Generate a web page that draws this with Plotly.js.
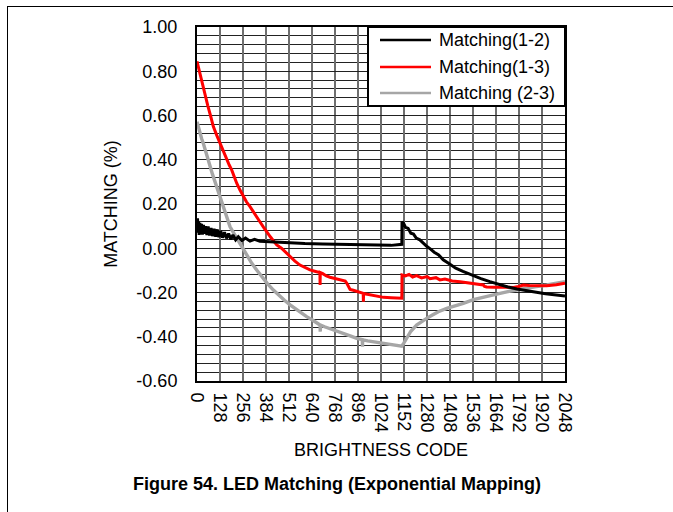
<!DOCTYPE html>
<html>
<head>
<meta charset="utf-8">
<script src="https://cdn.plot.ly/plotly-3.0.1.min.js"></script>
<style>
html,body{margin:0;padding:0;background:#fff;}
#chart{width:673px;height:512px;}
</style>
</head>
<body>
<div id="chart"></div>
<script>
// ---- data ----
const seriesNames = ['Matching(1-2)', 'Matching(1-3)', 'Matching (2-3)'];

const code12 = [0,3,6,9,12,16,20,25,30,36,42,48,55,62,70,78,86,95,104,113,122,132,142,153,164,176,188,200,215,230,250,270,295,320,350,390,450,520,600,700,800,900,1000,1080,1140,1141,1150,1160,1175,1190,1205,1220,1240,1260,1280,1300,1320,1345,1370,1400,1440,1480,1530,1580,1630,1680,1730,1780,1830,1880,1940,2000,2048];
const match12 = [0.09,0.135,0.07,0.12,0.06,0.115,0.07,0.11,0.062,0.105,0.065,0.1,0.06,0.098,0.058,0.092,0.055,0.088,0.052,0.085,0.05,0.078,0.048,0.072,0.045,0.066,0.04,0.06,0.038,0.052,0.035,0.046,0.032,0.04,0.032,0.03,0.027,0.024,0.021,0.019,0.017,0.015,0.014,0.013,0.018,0.12,0.112,0.095,0.09,0.068,0.064,0.046,0.038,0.022,0.008,-0.004,-0.018,-0.03,-0.052,-0.068,-0.09,-0.105,-0.122,-0.137,-0.151,-0.164,-0.175,-0.184,-0.192,-0.198,-0.206,-0.211,-0.216];

const code13 = [0,10,20,30,45,60,75,91,110,128,145,165,180,193,208,221,240,258,275,295,315,332,350,369,388,408,425,444,470,495,518,545,573,600,629,660,684,685,686,700,720,740,770,805,825,833,845,852,870,889,910,925,926,927,940,960,981,1010,1037,1080,1110,1130,1140,1141,1160,1180,1200,1222,1250,1280,1297,1330,1352,1380,1420,1464,1500,1540,1593,1600,1612,1650,1700,1760,1790,1816,1850,1900,1946,2000,2048];
const match13 = [0.845,0.81,0.775,0.745,0.69,0.645,0.6,0.55,0.51,0.474,0.44,0.405,0.375,0.354,0.32,0.294,0.262,0.233,0.21,0.188,0.165,0.143,0.12,0.097,0.072,0.052,0.034,0.015,0.0,-0.02,-0.038,-0.058,-0.076,-0.088,-0.098,-0.105,-0.11,-0.166,-0.11,-0.115,-0.125,-0.131,-0.138,-0.143,-0.148,-0.157,-0.175,-0.186,-0.19,-0.196,-0.2,-0.204,-0.242,-0.205,-0.207,-0.21,-0.214,-0.218,-0.222,-0.224,-0.225,-0.226,-0.226,-0.121,-0.125,-0.118,-0.13,-0.124,-0.134,-0.128,-0.138,-0.133,-0.143,-0.139,-0.148,-0.151,-0.155,-0.16,-0.166,-0.172,-0.175,-0.176,-0.177,-0.177,-0.173,-0.166,-0.168,-0.17,-0.169,-0.165,-0.158];

const code23 = [0,8,17,26,35,45,54,63,72,86,100,114,128,142,156,170,184,202,221,240,258,280,305,332,360,392,425,455,488,518,550,580,610,640,665,685,686,687,710,740,770,796,830,860,889,910,920,921,922,950,990,1037,1080,1120,1139,1150,1167,1190,1222,1250,1278,1310,1343,1390,1440,1482,1538,1600,1668,1730,1797,1830,1853,1880,1946,2000,2048];
const match23 = [0.572,0.545,0.52,0.495,0.474,0.445,0.421,0.395,0.369,0.335,0.301,0.267,0.233,0.2,0.165,0.13,0.097,0.072,0.045,0.02,-0.005,-0.035,-0.068,-0.098,-0.13,-0.16,-0.189,-0.213,-0.236,-0.256,-0.275,-0.293,-0.309,-0.323,-0.337,-0.347,-0.377,-0.347,-0.355,-0.363,-0.37,-0.377,-0.39,-0.398,-0.407,-0.411,-0.413,-0.445,-0.414,-0.419,-0.424,-0.43,-0.435,-0.44,-0.443,-0.43,-0.407,-0.375,-0.347,-0.33,-0.317,-0.302,-0.287,-0.272,-0.26,-0.249,-0.232,-0.219,-0.207,-0.196,-0.186,-0.18,-0.176,-0.174,-0.166,-0.16,-0.151];

const xTickVals = [0,128,256,384,512,640,768,896,1024,1152,1280,1408,1536,1664,1792,1920,2048];
const xTickLabels = ['0','128','256','384','512','640','768','896','1024','1152','1280','1408','1536','1664','1792','1920','2048'];
const yTickVals = [-0.6,-0.4,-0.2,0,0.2,0.4,0.6,0.8,1.0];
const yTickLabels = ['-0.60','-0.40','-0.20','0.00','0.20','0.40','0.60','0.80','1.00'];

const xTitle = 'BRIGHTNESS CODE';
const yTitle = 'MATCHING (%)';
const caption = 'Figure 54. LED Matching (Exponential Mapping)';

// ---- drawing ----
const FONT = 'Liberation Sans, Arial, sans-serif';
const colors = ['#000000', '#ff0000', '#a6a6a6'];
const widths = [3, 3, 3.4];

const W = 673, H = 512;
const L = 197, R = 565, T = 27, B = 381;
const px = v => (v - L) / (R - L);
const py = v => (B - v) / (B - T);

const traces = [
  {x: code12, y: match12, name: seriesNames[0]},
  {x: code13, y: match13, name: seriesNames[1]},
  {x: code23, y: match23, name: seriesNames[2]}
].map((t, i) => Object.assign(t, {
  type: 'scatter', mode: 'lines', showlegend: false,
  line: {color: colors[i], width: widths[i]}
}));
// draw order: gray, red, black on top like reference
const ordered = [traces[2], traces[1], traces[0]];

// manual legend (box + samples + labels)
const legRows = [40, 67, 93];
const shapes = [
  {type: 'rect', xref: 'paper', yref: 'paper', x0: px(368), x1: px(565), y0: py(106), y1: py(27),
   fillcolor: '#ffffff', line: {color: '#000', width: 2}, layer: 'above'},
  // outer frame (top and left edges)
  {type: 'line', xref: 'paper', yref: 'paper', x0: px(7), x1: px(680), y0: py(6.5), y1: py(6.5),
   line: {color: '#000', width: 1}},
  {type: 'line', xref: 'paper', yref: 'paper', x0: px(7.5), x1: px(7.5), y0: py(6.5), y1: py(520),
   line: {color: '#000', width: 1}}
];
const annotations = [];
seriesNames.forEach((n, i) => {
  shapes.push({type: 'line', xref: 'paper', yref: 'paper', x0: px(380), x1: px(431),
    y0: py(legRows[i]), y1: py(legRows[i]), line: {color: colors[i], width: 2.5}, layer: 'above'});
  annotations.push({xref: 'paper', yref: 'paper', x: px(437), y: py(legRows[i]),
    xanchor: 'left', yanchor: 'middle', showarrow: false, text: n,
    font: {family: FONT, size: 18, color: '#000'}});
});
annotations.push({xref: 'paper', yref: 'paper', x: px(337), y: py(484), xanchor: 'center', yanchor: 'middle',
  showarrow: false, text: '<b>' + caption + '</b>', font: {family: FONT, size: 18, color: '#000'}});

const layout = {
  width: W, height: H,
  margin: {l: L, r: W - R, t: T, b: H - B, pad: 0},
  paper_bgcolor: '#ffffff', plot_bgcolor: '#ffffff',
  font: {family: FONT, size: 18, color: '#000'},
  showlegend: false,
  xaxis: {
    range: [0, 2048], tickmode: 'array', tickvals: xTickVals, ticktext: xTickLabels,
    tickangle: 90, tickfont: {size: 18, color: '#000'}, ticks: '', ticklabelstandoff: 6,
    showgrid: true, gridcolor: '#6e6e6e', gridwidth: 1.8, zeroline: false,
    showline: true, linecolor: '#000', linewidth: 2, mirror: true,
    title: {text: xTitle, font: {size: 18, color: '#000'}, standoff: 12},
    automargin: false, fixedrange: true
  },
  yaxis: {
    range: [-0.6, 1.0], tickmode: 'array', tickvals: yTickVals, ticktext: yTickLabels,
    tickfont: {size: 18, color: '#000'}, ticks: '', ticklabelstandoff: 14,
    showgrid: true, gridcolor: '#222222', gridwidth: 1, zeroline: false,
    minor: {tickmode: 'linear', tick0: -0.6, dtick: 0.04, showgrid: true, gridcolor: '#222222', gridwidth: 1, ticks: ''},
    showline: true, linecolor: '#000', linewidth: 2, mirror: true,
    title: {text: yTitle, font: {size: 18, color: '#000'}, standoff: 14},
    automargin: false, fixedrange: true
  },
  shapes: shapes,
  annotations: annotations
};

Plotly.newPlot('chart', ordered, layout, {displayModeBar: false, staticPlot: true});
</script>
</body>
</html>
